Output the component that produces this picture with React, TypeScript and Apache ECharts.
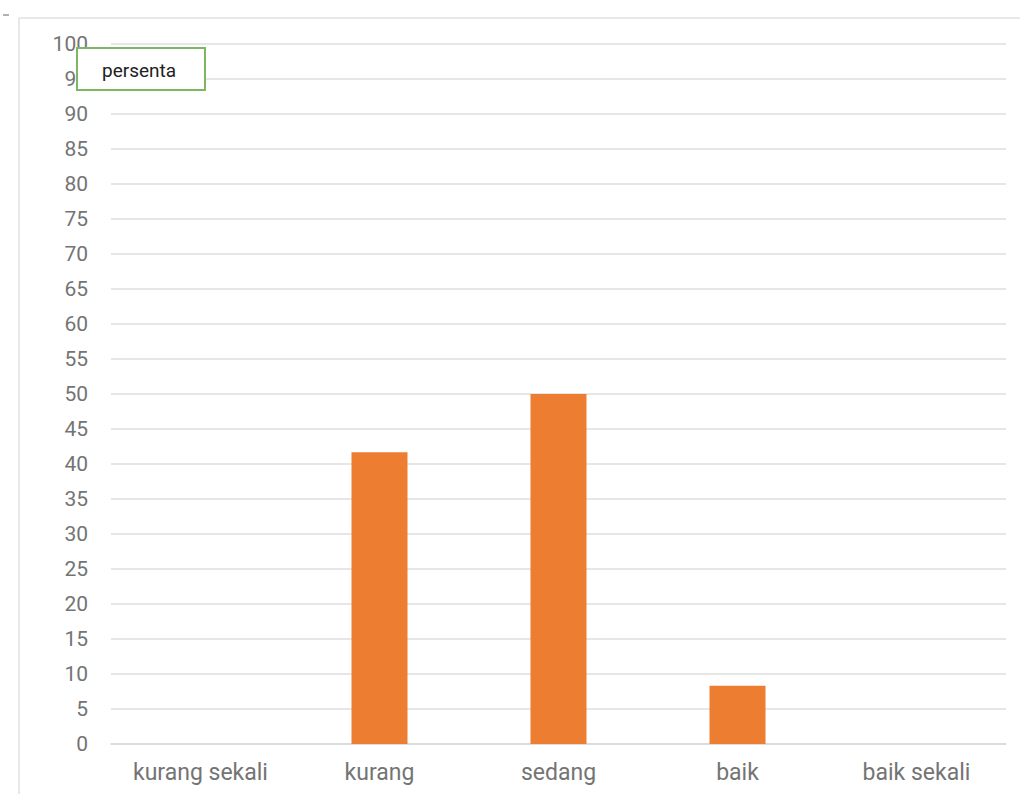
import React, { useEffect, useRef } from "react";
import * as echarts from "echarts";

const categories = ["kurang sekali", "kurang", "sedang", "baik", "baik sekali"];
const persenta = [0, 41.67, 50, 8.33, 0];
const seriesName = "persenta";

export default function App() {
  const ref = useRef<HTMLDivElement>(null);
  useEffect(() => {
    if (!ref.current) return;
    const chart = echarts.init(ref.current, undefined, { renderer: "svg" });
    chart.setOption({
      animation: false,
      backgroundColor: "#ffffff",
      textStyle: { fontFamily: "Roboto" },
      grid: { left: 111, right: 22, top: 44, bottom: 50 },
      xAxis: {
        type: "category",
        data: categories,
        axisLine: { show: true, lineStyle: { color: "#d9d9d9", width: 1.5 } },
        axisTick: { show: false },
        axisLabel: { color: "#747474", fontSize: 23, margin: 17 },
      },
      yAxis: {
        type: "value",
        min: 0,
        max: 100,
        interval: 5,
        axisLine: { show: false },
        axisTick: { show: false },
        axisLabel: { color: "#747474", fontSize: 21, margin: 23 },
        splitLine: { lineStyle: { color: "#dedede", width: 1.5 } },
      },
      series: [
        {
          name: seriesName,
          type: "bar",
          data: persenta,
          barWidth: 56,
          itemStyle: { color: "#ED7D31" },
        },
      ],
      graphic: [
        { type: "line", shape: { x1: 19, y1: 18, x2: 1020, y2: 18 }, style: { stroke: "#e0e0e0", lineWidth: 1.5 } },
        { type: "line", shape: { x1: 19, y1: 18, x2: 19, y2: 794 }, style: { stroke: "#e0e0e0", lineWidth: 1.5 } },
        { type: "line", shape: { x1: 3, y1: 15, x2: 9, y2: 15 }, style: { stroke: "#999999", lineWidth: 1.5 } },
        {
          type: "rect",
          shape: { x: 77, y: 48, width: 128, height: 42 },
          style: { fill: "#ffffff", stroke: "#7fb662", lineWidth: 2 },
          z: 100,
        },
        {
          type: "text",
          x: 102,
          y: 70,
          style: { text: seriesName, fill: "#222222", fontSize: 19, fontFamily: "Roboto", verticalAlign: "middle" },
          z: 101,
        },
      ],
    });
    return () => chart.dispose();
  }, []);
  return <div ref={ref} style={{ width: 1028, height: 794, position: "absolute", left: 0, top: 0 }} />;
}
